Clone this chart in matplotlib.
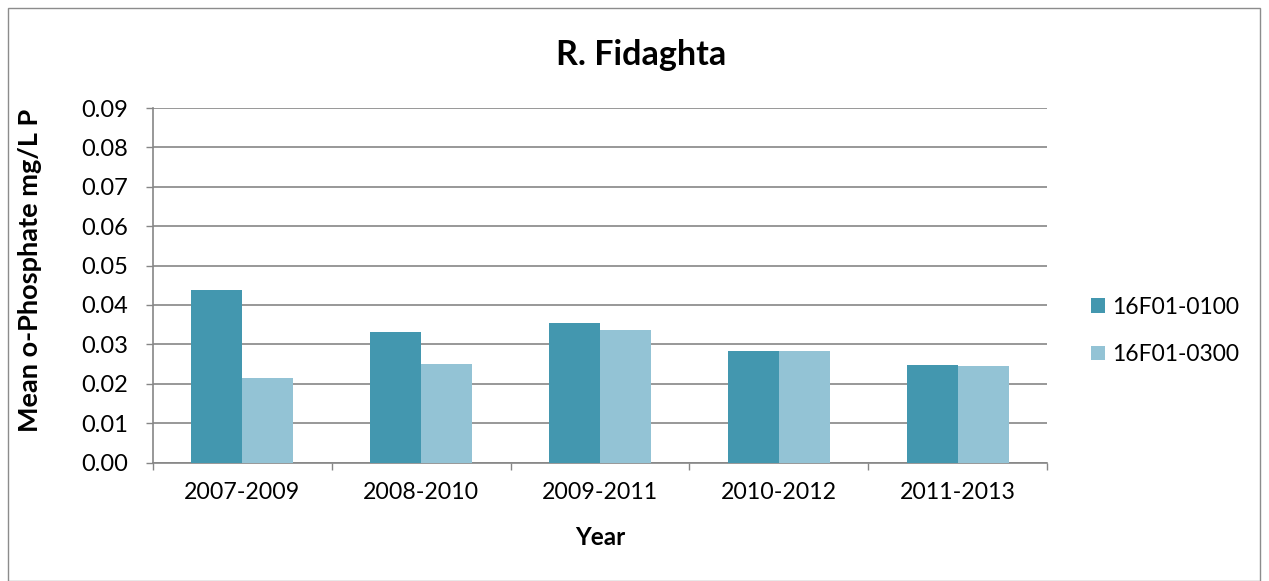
import matplotlib
matplotlib.use("Agg")
import matplotlib.pyplot as plt
import numpy as np
from matplotlib.patches import Rectangle

categories = ["2007-2009", "2008-2010", "2009-2011", "2010-2012", "2011-2013"]
series_names = ["16F01-0100", "16F01-0300"]
s0100 = [0.0439, 0.0332, 0.0355, 0.0283, 0.0248]
s0300 = [0.0214, 0.0251, 0.0337, 0.0283, 0.0246]
yticks = [0.00, 0.01, 0.02, 0.03, 0.04, 0.05, 0.06, 0.07, 0.08, 0.09]

colors = ["#4397AF", "#93C3D5"]
grid_c = "#868686"
font = ["Lato", "DejaVu Sans"]
plt.rcParams["font.family"] = font

W, H = 1269, 581
fig = plt.figure(figsize=(W / 100, H / 100), dpi=100)
fig.patches.append(Rectangle((8 / W, 0), 1252 / W, (H - 8) / H, transform=fig.transFigure,
                             fill=False, edgecolor="#8c8c8c", linewidth=1.0))

left, right, top, bottom = 153, 1047, 108, 462.5
pw, ph = right - left, bottom - top
ax = fig.add_axes([left / W, (H - bottom) / H, pw / W, ph / H])

x = np.arange(len(categories))
bw = 1 / 3.5
ax.bar(x - bw / 2, s0100, width=bw, color=colors[0], label=series_names[0], zorder=3)
ax.bar(x + bw / 2, s0300, width=bw, color=colors[1], label=series_names[1], zorder=3)

ax.set_xlim(-0.5, len(categories) - 0.5)
ax.set_ylim(0, 0.09)
ax.set_yticks(yticks)
ax.set_yticklabels([f"{v:.2f}" for v in yticks], fontsize=17)
ax.set_xticks(x)
ax.set_xticklabels(categories, fontsize=16.7)
ax.set_xticks(np.arange(-0.5, len(categories), 1), minor=True)
ax.tick_params(axis="x", which="major", length=0, pad=14)
ax.tick_params(axis="x", which="minor", length=5, color=grid_c, width=1)
ax.tick_params(axis="y", length=5, color=grid_c, width=1, pad=13)
ax.yaxis.grid(True, color=grid_c, linewidth=1.2, zorder=0)
ax.set_axisbelow(True)
for s in ["top", "right"]:
    ax.spines[s].set_visible(False)
for s in ["left", "bottom"]:
    ax.spines[s].set_color(grid_c)
    ax.spines[s].set_linewidth(1.2)

ax.set_xlabel("Year", fontsize=17.5, fontweight="bold")
ax.xaxis.set_label_coords((600 - left) / pw, (bottom - 526) / ph)
ax.set_ylabel("Mean o-Phosphate mg/L P", fontsize=19.5, fontweight="bold")
ax.yaxis.set_label_coords((42 - left) / pw, (bottom - 270) / ph)
fig.text(641 / W, 1 - 55 / H, "R. Fidaghta", ha="center", va="center", fontsize=24.5, fontweight="bold")

fig.legend(loc="center left", bbox_to_anchor=(1091 / W, 1 - 331 / H), frameon=False,
           borderpad=0, borderaxespad=0,
           fontsize=16.5, handlelength=0.61, handleheight=0.61, handletextpad=0.3, labelspacing=1.15)

fig.savefig("out.png", dpi=100)
